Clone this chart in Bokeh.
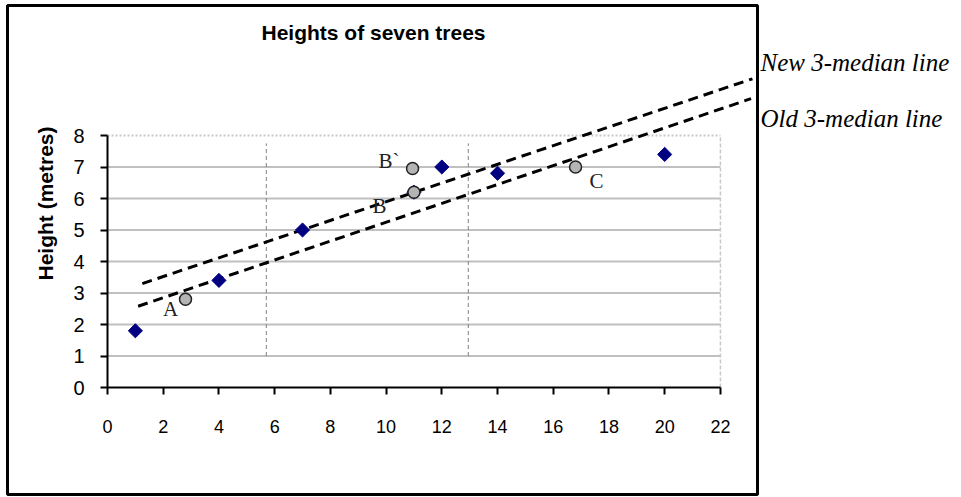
import math
from bokeh.plotting import figure
from bokeh.models import Range1d, FixedTicker, Label, BoxAnnotation
from bokeh.embed import file_html
from bokeh.resources import INLINE

# ---- data ----
tree_x = [1, 4, 7, 11, 12, 14, 20]
tree_h = [1.8, 3.4, 5.0, 6.2, 7.0, 6.8, 7.4]

median_names = ["A", "B", "B`", "C"]
median_x = [2.8, 11.0, 10.95, 16.8]
median_y = [2.8, 6.2, 6.95, 7.0]
name_x = [2.26, 9.76, 10.1, 17.55]
name_y = [2.48, 5.76, 7.2, 6.56]

old_line_x = [1.1, 23.1]
old_line_y = [2.58, 9.17]
new_line_x = [1.25, 23.15]
new_line_y = [3.3, 9.8]

group_bounds = [5.7, 12.95]
divider_y = [1.0, 7.75]

x_ticks = list(range(0, 23, 2))
y_ticks = list(range(0, 9))
grid_y = y_ticks[1:-1]
x_max = 22
y_max = 8

# ---- layout: the frame covers the whole canvas ----
W, H = 958, 496
PX_X = 27.86      # pixels per x unit
PX_Y = 31.5       # pixels per y unit
X0 = 107          # canvas x of x=0
Y0 = 387          # canvas y of y=0


def fx(cx):
    return (cx - X0) / PX_X


def fy(cy):
    return (Y0 - cy) / PX_Y


p = figure(frame_width=W, frame_height=H, min_border=0,
           x_range=Range1d(fx(0), fx(W)), y_range=Range1d(fy(H), fy(0)),
           output_backend="svg", toolbar_location=None)
p.outline_line_color = None
p.background_fill_color = "white"
p.border_fill_color = "white"
p.grid.visible = False

# gridlines inside the plot area
p.segment(x0=[0] * len(grid_y), x1=[x_max] * len(grid_y), y0=grid_y, y1=grid_y,
          line_color="#c0c0c0", line_width=2)

# plot-area border (top and right)
p.line([0, x_max], [y_max, y_max], line_color="#c8c8c8", line_width=2, line_dash="2 2")
p.line([x_max, x_max], [0, y_max], line_color="#c8c8c8", line_width=1.5, line_dash="4 2")

# axes placed at the origin
for ax, ticks, lim in ((p.xaxis[0], x_ticks, x_max), (p.yaxis[0], y_ticks, y_max)):
    ax.fixed_location = 0
    ax.ticker = FixedTicker(ticks=ticks)
    ax.bounds = (0, lim)
    ax.axis_line_width = 2
    ax.axis_line_color = "black"
    ax.major_tick_line_width = 2
    ax.major_tick_line_color = "black"
    ax.major_tick_out = 7
    ax.major_tick_in = 0
    ax.minor_tick_line_color = None
    ax.major_label_text_font = "Liberation Sans"
    ax.major_label_text_color = "black"
p.xaxis.major_label_text_font_size = "18px"
p.yaxis.major_label_text_font_size = "20px"
p.xaxis.major_label_standoff = 25
p.yaxis.major_label_standoff = 16

# group dividers
for gx in group_bounds:
    p.line([gx, gx], divider_y, line_color="#808080", line_width=1, line_dash="4 3")

# 3-median lines
p.line(old_line_x, old_line_y, line_color="black", line_width=3, line_dash="10 6")
p.line(new_line_x, new_line_y, line_color="black", line_width=3, line_dash="10 6")

# trees
p.scatter(tree_x, tree_h, marker="square", size=10, angle=math.pi / 4,
          fill_color="#000080", line_color="#000080")

# median points
p.scatter(median_x, median_y, marker="circle", size=12,
          fill_color="#b4b4b4", line_color="#222222", line_width=1.5)

for t, lx, ly in zip(median_names, name_x, name_y):
    p.add_layout(Label(x=lx, y=ly, text=t, text_align="center", text_baseline="middle",
                       text_font="Liberation Serif", text_font_size="21px",
                       text_color="#222222"))

# titles and notes
p.add_layout(Label(x=fx(373), y=fy(32), text="Heights of seven trees",
                   text_align="center", text_baseline="middle",
                   text_font="Liberation Sans", text_font_size="21px",
                   text_font_style="bold", text_color="black"))
p.add_layout(Label(x=fx(45), y=fy(203), text="Height (metres)", angle=math.pi / 2,
                   text_align="center", text_baseline="middle",
                   text_font="Liberation Sans", text_font_size="21px",
                   text_font_style="bold", text_color="black"))
p.add_layout(Label(x=fx(760), y=fy(62), text="New 3-median line",
                   text_align="left", text_baseline="middle",
                   text_font="Liberation Serif", text_font_size="25px",
                   text_font_style="italic", text_color="black"))
p.add_layout(Label(x=fx(760), y=fy(118), text="Old 3-median line",
                   text_align="left", text_baseline="middle",
                   text_font="Liberation Serif", text_font_size="25px",
                   text_font_style="italic", text_color="black"))

# outer chart border
p.add_layout(BoxAnnotation(left=fx(7), right=fx(757), top=fy(5), bottom=fy(494),
                           fill_alpha=0, line_color="black", line_alpha=1.0, line_width=3))

open("out.html", "w").write(file_html(p, INLINE))
